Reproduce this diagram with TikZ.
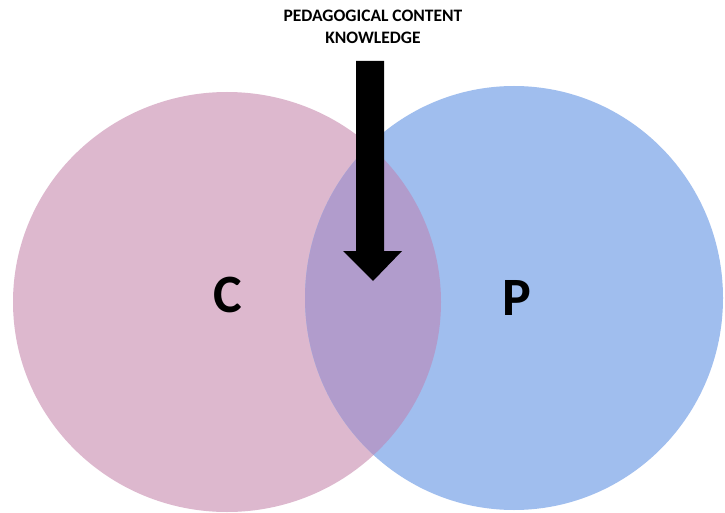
\documentclass[tikz,border=0pt]{standalone}
\usepackage{fontspec}
\setmainfont{Carlito}
\definecolor{cpink}{RGB}{221,184,206}
\definecolor{pblue}{RGB}{160,190,238}
\definecolor{overlap}{RGB}{177,156,204}
\tikzset{
  lbl/.style={font=\bfseries\fontsize{17.5}{22}\selectfont, align=center, inner sep=0pt},
  big/.style={font=\bfseries\fontsize{54}{60}\selectfont, inner sep=0pt}
}
\begin{document}
\begin{tikzpicture}[x=1pt,y=-1pt]
\useasboundingbox (0,0) rectangle (725,513);
\clip (0,0) rectangle (725,513);
\fill[white] (0,0) rectangle (725,513);
\fill[cpink] (227,302) ellipse [x radius=214, y radius=210];
\fill[pblue] (514,298) ellipse [x radius=209, y radius=212];
\begin{scope}
  \clip (227,302) ellipse [x radius=214, y radius=210];
  \fill[overlap] (514,298) ellipse [x radius=209, y radius=212];
\end{scope}
\node[lbl] (title) at (373,27) {PEDAGOGICAL CONTENT\\KNOWLEDGE};
\fill[black] (356,61) -- (384,61) -- (384,251) -- (402,251) -- (373,281) -- (343,251) -- (356,251) -- cycle;
\node[big] (c) at (228,295) {C};
\node[big] (p) at (517,298) {P};
\end{tikzpicture}
\end{document}
